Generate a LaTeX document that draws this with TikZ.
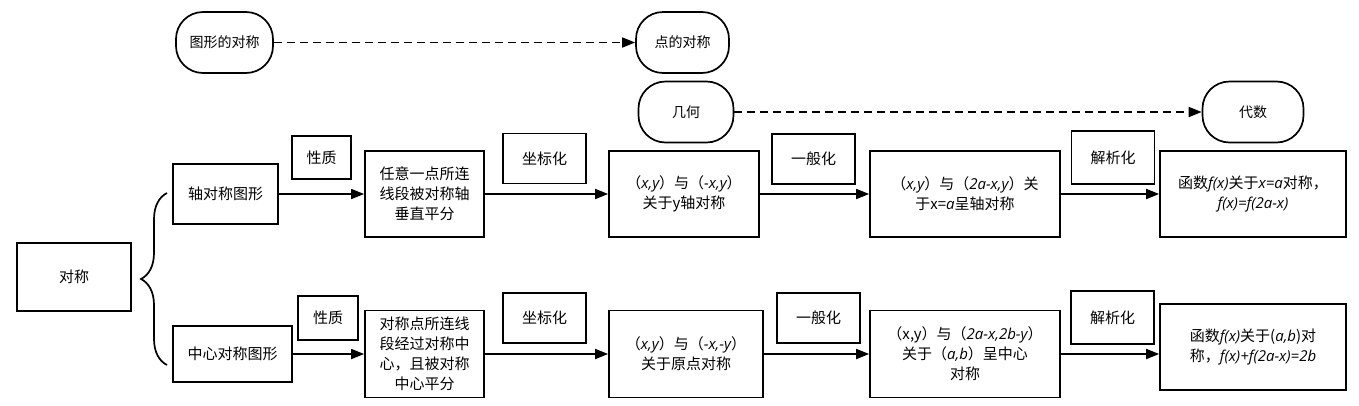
\documentclass[tikz,border=0pt]{standalone}
\usepackage{fontspec}
\setmainfont{Noto Sans CJK SC}
\newfontfamily\latinfont{Open Sans}
\usetikzlibrary{positioning, arrows.meta, decorations.pathreplacing}
\newcommand{\vx}[1]{{\latinfont\itshape #1}}

\begin{document}
\begin{tikzpicture}[x=1pt, y=-1pt, on grid,
  box/.style={draw, line width=1.7pt, align=center, inner sep=2pt,
    font=\fontsize{15}{20}\selectfont},
  tag/.style={box, minimum width=83pt, minimum height=50pt},
  pill/.style={box, rounded corners=27pt, minimum height=61pt,
    font=\fontsize{14}{18}\selectfont},
  flow/.style={-{Triangle[length=13pt,width=10pt]}, line width=1.7pt},
  hint/.style={flow, dash pattern=on 8pt off 5pt}]
  \useasboundingbox (0,0) rectangle (1359,405);

  % top: the two dashed hints
  \node[pill, minimum width=97pt] (txdc) at (224.5,42.5) {图形的对称};
  \node[pill, minimum width=93pt] (ddc) at (682.5,42.5) {点的对称};
  \node[pill, minimum width=95pt] (jh) at (686,112) {几何};
  \node[pill, minimum width=101pt] (ds) at (1253,112) {代数};

  \node[box, minimum width=114pt, minimum height=68pt] (dc) at (74,277) {对称};

  % axial symmetry
  \node[box, minimum width=105pt, minimum height=60pt] (zhou) at (225.5,194) {轴对称图形};
  \node[box, minimum width=119pt, minimum height=86pt] (ry) at (424.5,194)
    {任意一点所连\\线段被对称轴\\垂直平分};
  \node[box, minimum width=150pt, minimum height=86pt] (xy1) at (684,194)
    {（\vx{x,y}）与（\vx{-x,y}）\\关于y轴对称};
  \node[box, minimum width=190pt, minimum height=86pt] (ax1) at (965,194)
    {（\vx{x,y}）与（\vx{2a-x,y}）关\\于x=\vx{a}呈轴对称};
  \node[box, minimum width=186pt, minimum height=86pt] (hs1) at (1253,194)
    {函数\vx{f(x)}关于\vx{x=a}对称，\\\vx{f(x)=f(2a-x)}};

  % central symmetry
  \node[box, minimum width=119pt, minimum height=56pt] (zx) at (232.5,354) {中心对称图形};
  \node[box, minimum width=119pt, minimum height=87pt] (dcd) [below=160pt of ry]
    {对称点所连线\\段经过对称中\\心，且被对称\\中心平分};
  \node[box, minimum width=154pt, minimum height=87pt] (xy2) at (686,354)
    {（\vx{x,y}）与（\vx{-x,-y}）\\关于原点对称};
  \node[box, minimum width=190pt, minimum height=87pt] (ax2) [below=160pt of ax1]
    {（x,y）与（\vx{2a-x,2b-y}）\\关于（\vx{a,b}）呈中心\\对称};
  \node[box, minimum width=186pt, minimum height=86pt] (hs2) [below=153pt of hs1]
    {函数\vx{f(x)}关于(\vx{a,b})对\\称，\vx{f(x)+f(2a-x)=2b}};

  % step labels
  \node[tag, minimum width=59pt, minimum height=43pt] (xz1) at (321.5,157.5) {性质};
  \node[tag] (zb1) at (544.5,158.5) {坐标化};
  \node[tag] (yb1) at (813.5,159) {一般化};
  \node[tag, minimum height=53pt] (jx1) at (1113,157.5) {解析化};
  \node[tag, minimum width=60pt, minimum height=44pt] (xz2) at (328,318) {性质};
  \node[tag] (zb2) at (544.5,318) {坐标化};
  \node[tag] (yb2) at (818.5,318) {一般化};
  \node[tag, minimum height=53pt] (jx2) at (1112.5,317.5) {解析化};

  \coordinate (bt) at (167,193);
  \coordinate (bb) at (167,365);
  \draw[line width=1.7pt, decorate, decoration={brace, amplitude=26pt}] (bb) -- (bt);

  \path[flow]
  (zhou) edge (ry)
  (ry) edge (xy1)
  (xy1) edge (ax1)
  (ax1) edge (hs1)
  (zx) edge (dcd)
  (dcd) edge (xy2)
  (xy2) edge (ax2)
  (ax2.east) edge (ax2.east -| hs2.west)
  ;
  \path[hint]
  (txdc) edge (ddc)
  (jh) edge (ds)
  ;
\end{tikzpicture}
\end{document}
